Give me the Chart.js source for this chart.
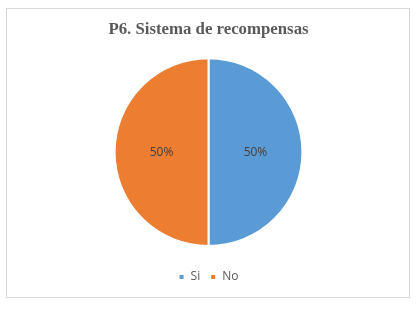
<!DOCTYPE html>
<html>
<head>
<meta charset="utf-8">
<script src="https://cdn.jsdelivr.net/npm/chart.js@4/dist/chart.umd.min.js"></script>
<style>
    html, body {
        margin : 0;
        padding : 0;
        background : #FFFFFF;
    }
    .frame {
        position : absolute;
        left : 6px;
        top : 8px;
        width : 402px;
        height : 288px;
        border : 1px solid #D9D9D9;
    }
    .chart-box {
        position : absolute;
        left : 0;
        top : 0;
        width : 417px;
        height : 309px;
    }
</style>
</head>
<body>
<div class="frame"></div>
<div class="chart-box"><canvas id="chart" width="417" height="309"></canvas></div>
<script>
var categories = ["Si", "No"];
var values = [50, 50];
var percentLabels = ["50%", "50%"];

var COLORS = {
    blue: '#5B9BD5',
    orange: '#ED7D31'
};

// draws the percent text in the middle of each slice
var sliceLabels = {
    id: 'sliceLabels',
    afterDatasetsDraw(chart) {
        var ctx = chart.ctx;
        var meta = chart.getDatasetMeta(0);
        ctx.save();
        ctx.font = '12px "Open Sans", sans-serif';
        ctx.fillStyle = '#404040';
        ctx.textAlign = 'center';
        ctx.textBaseline = 'middle';
        meta.data.forEach((arc, i) => {
            var pos = arc.tooltipPosition();
            ctx.fillText(percentLabels[i], pos.x, pos.y);
        });
        ctx.restore();
    }
};

new Chart(document.getElementById('chart'), {
    type: 'pie',
    data: {
        labels: categories,
        datasets: [{
            data: values,
            backgroundColor: [COLORS.blue, COLORS.orange],
            borderColor: '#FFFFFF',
            borderWidth: 2
        }]
    },
    options: {
        responsive: false,
        animation: false,
        devicePixelRatio: 1,
        layout: {
            padding: { top: 12, bottom: 16, left: 0, right: 0 }
        },
        plugins: {
            title: {
                display: true,
                text: 'P6. Sistema de recompensas',
                color: '#595959',
                font: { family: '"Liberation Serif", "Times New Roman", serif', size: 16.8, weight: 'bold' },
                padding: { top: 8, bottom: 17 }
            },
            legend: {
                position: 'bottom',
                // empty title only adds space above the legend row
                title: {
                    display: true,
                    text: '',
                    font: { size: 10 },
                    padding: 1
                },
                labels: {
                    boxWidth: 6,
                    boxHeight: 6,
                    color: '#595959',
                    font: { family: '"Open Sans", sans-serif', size: 12 },
                    padding: 10
                }
            },
            tooltip: { enabled: false }
        }
    },
    plugins: [sliceLabels]
});
</script>
</body>
</html>
